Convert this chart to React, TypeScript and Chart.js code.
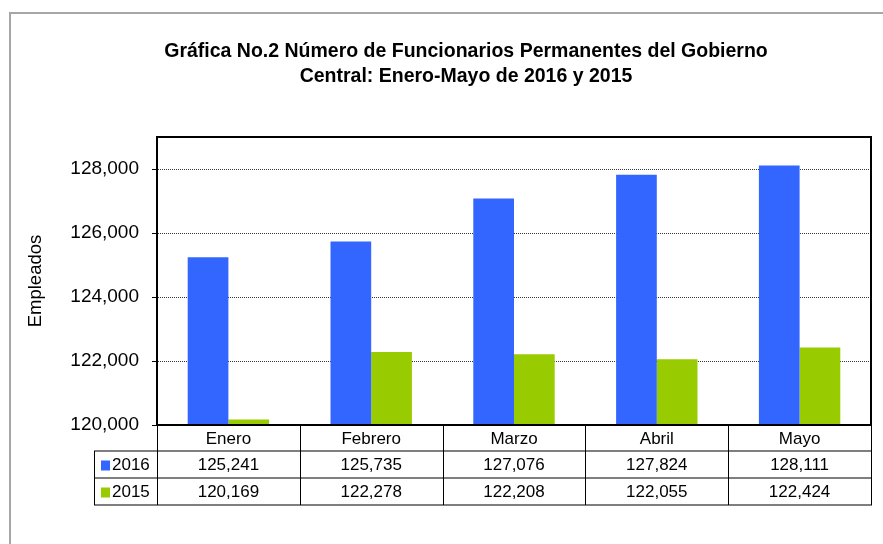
import React, { useEffect, useRef } from "react";
import { Chart, registerables } from "chart.js";

Chart.register(...registerables);

const titleLines = [
  "Gráfica No.2 Número de Funcionarios Permanentes del Gobierno",
  "Central: Enero-Mayo de 2016 y 2015",
];
const categories = ["Enero", "Febrero", "Marzo", "Abril", "Mayo"];
const seriesLabels = ["2016", "2015"];
const values2016 = [125241, 125735, 127076, 127824, 128111];
const values2015 = [120169, 122278, 122208, 122055, 122424];
const yMin = 120000;
const yMax = 129000;
const yStep = 2000;
const yTitle = "Empleados";
const colors = ["#3366FF", "#99CC00"];

const FONT = "Arial, 'Liberation Sans', sans-serif";

const decorPlugin = {
  id: "decor",
  beforeDraw(chart: any) {
    const ctx = chart.ctx;
    ctx.save();
    // outer frame
    ctx.strokeStyle = "#a6a6a6";
    ctx.lineWidth = 2;
    ctx.beginPath();
    ctx.moveTo(10, 544);
    ctx.lineTo(10, 13);
    ctx.lineTo(883, 13);
    ctx.stroke();
    // title
    ctx.fillStyle = "#000";
    ctx.font = `bold 19.5px ${FONT}`;
    ctx.textAlign = "center";
    ctx.textBaseline = "alphabetic";
    ctx.fillText(titleLines[0], 466, 57);
    ctx.fillText(titleLines[1], 466, 82);
    // y title
    ctx.save();
    ctx.translate(36, (chart.chartArea.top + chart.chartArea.bottom) / 2);
    ctx.rotate(-Math.PI / 2);
    ctx.font = `18.5px ${FONT}`;
    ctx.textBaseline = "middle";
    ctx.fillText(yTitle, 0, 0);
    ctx.restore();
    ctx.restore();
  },
  afterDraw(chart: any) {
    const ctx = chart.ctx;
    const area = chart.chartArea;
    const xs = chart.scales.x;
    const n = categories.length;
    const cw = (area.right - area.left) / n;
    const rowTop = area.bottom;
    const r1 = rowTop + 26;
    const r2 = r1 + 27;
    const r3 = r2 + 27;
    const tableLeft = 94;
    ctx.save();
    // plot frame
    ctx.strokeStyle = "#000";
    ctx.lineWidth = 2;
    ctx.strokeRect(area.left, area.top, area.right - area.left, area.bottom - area.top);
    // horizontal lines
    ctx.strokeStyle = "#555";
    ctx.lineWidth = 1.5;
    [r1, r2, r3].forEach((y) => {
      ctx.beginPath();
      ctx.moveTo(tableLeft, y);
      ctx.lineTo(area.right + 1, y);
      ctx.stroke();
    });
    // vertical lines
    ctx.strokeStyle = "#000";
    ctx.lineWidth = 1;
    for (let i = 0; i <= n; i++) {
      const x = Math.round(area.left + i * cw) + 0.5;
      ctx.beginPath();
      ctx.moveTo(x, rowTop);
      ctx.lineTo(x, r3);
      ctx.stroke();
    }
    ctx.beginPath();
    ctx.moveTo(tableLeft + 0.5, r1);
    ctx.lineTo(tableLeft + 0.5, r3);
    ctx.stroke();
    // texts
    ctx.fillStyle = "#000";
    ctx.font = `17px ${FONT}`;
    ctx.textAlign = "center";
    ctx.textBaseline = "middle";
    const rows = [values2016, values2015];
    categories.forEach((c, i) => {
      const cx = xs.getPixelForValue(i);
      ctx.fillText(c, cx, (rowTop + r1) / 2 + 1);
      rows.forEach((vals, j) => {
        const y = j === 0 ? (r1 + r2) / 2 + 1 : (r2 + r3) / 2 + 1;
        ctx.fillText(vals[i].toLocaleString("en-US"), cx, y);
      });
    });
    // legend keys
    ctx.textAlign = "left";
    seriesLabels.forEach((lab, j) => {
      const y = j === 0 ? (r1 + r2) / 2 + 1 : (r2 + r3) / 2 + 1;
      ctx.fillStyle = colors[j];
      ctx.fillRect(101, y - 5, 9, 10);
      ctx.fillStyle = "#000";
      ctx.fillText(lab, 112, y);
    });
    ctx.restore();
  },
};

export default function App() {
  const ref = useRef<HTMLCanvasElement | null>(null);
  useEffect(() => {
    if (!ref.current) return;
    const chart = new Chart(ref.current, {
      type: "bar",
      data: {
        labels: categories,
        datasets: [
          { label: seriesLabels[0], data: values2016, backgroundColor: colors[0] },
          { label: seriesLabels[1], data: values2015, backgroundColor: colors[1] },
        ],
      },
      options: {
        responsive: false,
        animation: false,
        devicePixelRatio: 1,
        layout: { padding: { left: 0, top: 137, right: 12, bottom: 119 } },
        datasets: { bar: { barPercentage: 1, categoryPercentage: 0.57 } },
        plugins: {
          legend: { display: false },
          title: { display: false },
          tooltip: { enabled: false },
        },
        scales: {
          x: { display: false },
          y: {
            min: yMin,
            max: yMax,
            afterFit(scale: any) {
              scale.width = 157;
            },
            afterBuildTicks(scale: any) {
              const t: any[] = [];
              for (let v = yMin; v < yMax; v += yStep) t.push({ value: v });
              scale.ticks = t;
            },
            ticks: {
              padding: 13,
              color: "#000",
              autoSkip: false,
              font: { family: FONT, size: 19 },
              callback: (v: any) => Number(v).toLocaleString("en-US"),
            },
            grid: {
              color: "#333",
              lineWidth: 1,
              tickLength: 5,
              tickColor: "#000",
              tickBorderDash: [],
            },
            border: { display: true, color: "#000", width: 2, dash: [1, 1] } as any,
          },
        },
      } as any,
      plugins: [decorPlugin],
    });
    return () => chart.destroy();
  }, []);
  return (
    <div style={{ position: "fixed", left: 0, top: 0, width: 883, height: 544, background: "#fff" }}>
      <canvas ref={ref} width={883} height={544} />
    </div>
  );
}
